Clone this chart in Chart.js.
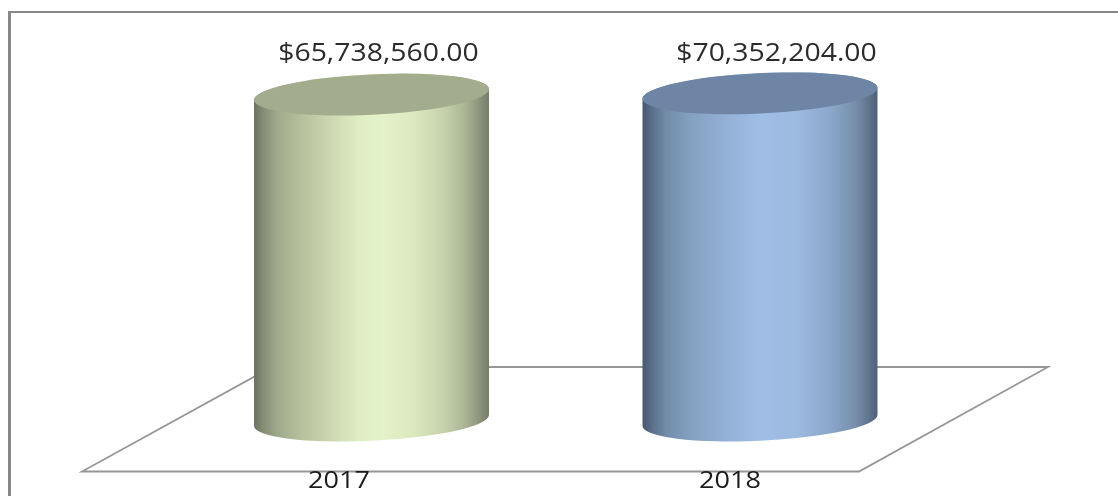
<!DOCTYPE html>
<html>
<head>
<meta charset="utf-8">
<style>
html, body { margin: 0; padding: 0; background: #fff; overflow: hidden; }
canvas { display: block; }
</style>
<script src="https://cdn.jsdelivr.net/npm/chart.js@4"></script>
</head>
<body>
<canvas id="chart" width="1118" height="496"></canvas>
<script>
// datos
const years = ['2017', '2018'];
const amounts = [65738560, 70352204];
const sideStops = [
    [[0, '#6c7361'], [0.04, '#858d75'], [0.1, '#a0aa8b'], [0.2, '#b6c09d'], [0.32, '#cbd6b0'], [0.45, '#e0eec4'], [0.55, '#e4f2c9'], [0.68, '#dce9bf'], [0.8, '#c8d3ae'], [0.9, '#aab494'], [0.96, '#8c947c'], [1, '#747c68']],
    [[0, '#47586f'], [0.04, '#5a6f8a'], [0.1, '#728ba9'], [0.2, '#84a0c0'], [0.35, '#93b0d4'], [0.5, '#9fbee6'], [0.65, '#9dbae0'], [0.8, '#8ba7ca'], [0.9, '#7890ae'], [0.96, '#62768f'], [1, '#4f5f77']]
];
const capColors = ['#a3ad8d', '#6f85a6'];
const amountOffsets = [7, 16.5];
const yearOffsets = [-32.5, -30];

const TILT = -2.76 * Math.PI / 180;
const MINOR = 20.2 / 117.5;

function stretchedText(ctx, text, cx, cy, font, color, scaleX) {
    ctx.save();
    ctx.font = font;
    ctx.fillStyle = color;
    ctx.textAlign = 'center';
    ctx.textBaseline = 'middle';
    ctx.translate(cx, cy);
    ctx.scale(scaleX, 1);
    ctx.fillText(text, 0, 0);
    ctx.restore();
}

function drawCylinder(ctx, bar, index) {
    const a = bar.width / 2 * 1.001;
    const b = a * MINOR;
    const t0 = Math.atan2(-b * Math.sin(TILT), a * Math.cos(TILT));
    const edgeX = a * Math.cos(t0) * Math.cos(TILT) - b * Math.sin(t0) * Math.sin(TILT);
    const edgeY = a * Math.cos(t0) * Math.sin(TILT) + b * Math.sin(t0) * Math.cos(TILT);

    const grad = ctx.createLinearGradient(bar.x - edgeX, 0, bar.x + edgeX, 0);
    sideStops[index].forEach(s => grad.addColorStop(s[0], s[1]));

    ctx.beginPath();
    ctx.moveTo(bar.x - edgeX, bar.y - edgeY);
    ctx.lineTo(bar.x - edgeX, bar.base - edgeY);
    ctx.ellipse(bar.x, bar.base, a, b, TILT, t0 + Math.PI, t0, true);
    ctx.lineTo(bar.x + edgeX, bar.y + edgeY);
    ctx.ellipse(bar.x, bar.y, a, b, TILT, t0, t0 + Math.PI, true);
    ctx.closePath();
    ctx.fillStyle = grad;
    ctx.fill();

    ctx.beginPath();
    ctx.ellipse(bar.x, bar.y, a, b, TILT, 0, Math.PI * 2);
    ctx.fillStyle = capColors[index];
    ctx.fill();
}

const cylinderPlugin = {
    id: 'cylinders',
    beforeDatasetsDraw(chart) {
        const ctx = chart.ctx;
        ctx.save();
        // marco
        ctx.fillStyle = '#888888';
        ctx.fillRect(8, 11, 3, 485);
        ctx.fillRect(8, 11, 1110, 2);
        // piso
        ctx.strokeStyle = '#969696';
        ctx.lineWidth = 1.8;
        ctx.beginPath();
        ctx.moveTo(82, 471.5);
        ctx.lineTo(859, 471.5);
        ctx.lineTo(1048, 367);
        ctx.lineTo(272, 367);
        ctx.closePath();
        ctx.stroke();
        ctx.restore();
    },
    beforeDatasetDraw(chart, args) {
        const ctx = chart.ctx;
        const meta = chart.getDatasetMeta(args.index);
        ctx.save();
        meta.data.forEach((bar, i) => drawCylinder(ctx, bar, i));
        ctx.restore();
        return false;
    },
    afterDatasetsDraw(chart) {
        const ctx = chart.ctx;
        const meta = chart.getDatasetMeta(0);
        meta.data.forEach((bar, i) => {
            const txt = amounts[i].toLocaleString('en-US', { style: 'currency', currency: 'USD' });
            stretchedText(ctx, txt, bar.x + amountOffsets[i], 53.5, '25px "Open Sans"', '#2b2b2b', 1.135);
            stretchedText(ctx, years[i], bar.x + yearOffsets[i], 481, '23px "Open Sans"', '#1c1c1c', 1.175);
        });
    }
};

new Chart(document.getElementById('chart').getContext('2d'), {
    type: 'bar',
    data: {
        labels: years,
        datasets: [{
            data: amounts,
            backgroundColor: capColors,
            barThickness: 235
        }]
    },
    options: {
        responsive: false,
        animation: false,
        layout: { padding: { left: 177.25, right: 163.75, top: 87, bottom: 75.5 } },
        plugins: { legend: { display: false }, tooltip: { enabled: false } },
        scales: {
            x: { display: false },
            // casi misma altura en el original
            y: { display: false, type: 'logarithmic', min: 1, max: 100000000 }
        }
    },
    plugins: [cylinderPlugin]
});
</script>
</body>
</html>
